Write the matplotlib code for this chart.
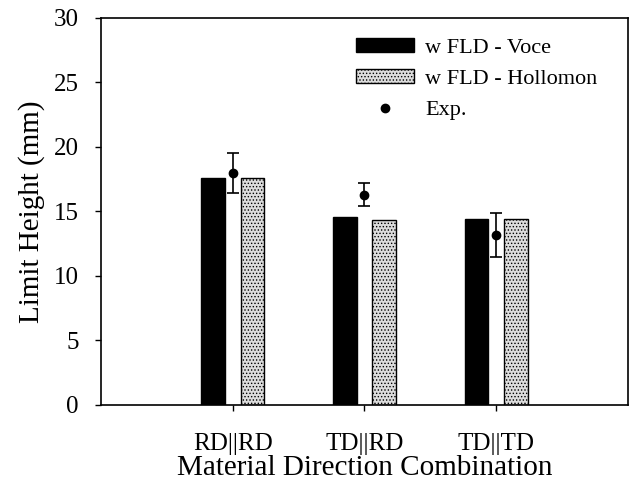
import matplotlib.pyplot as plt
from matplotlib.lines import Line2D
import numpy as np

plt.rcParams['font.family'] = ['Liberation Serif', 'DejaVu Serif']
plt.rcParams['hatch.color'] = '#8a8a8a'
plt.rcParams['hatch.linewidth'] = 0.6

# data
categories = ['RD||RD', 'TD||RD', 'TD||TD']
voce = [17.6, 14.6, 14.4]
hollomon = [17.6, 14.3, 14.4]
exp_mean = [18.0, 16.3, 13.2]
exp_err = [1.55, 0.9, 1.7]

x = np.arange(1, len(categories) + 1)
w = 0.18
off = 0.15

fig = plt.figure(figsize=(6.35, 4.86), dpi=100)
ax = fig.add_axes([0.159, 0.167, 0.830, 0.796])

b1 = ax.bar(x - off, voce, w, color='black', edgecolor='black', label='w FLD - Voce')
b2 = ax.bar(x + off, hollomon, w, color='#dcdcdc', edgecolor='black', linewidth=1.0,
            hatch='.....', label='w FLD - Hollomon')
ax.errorbar(x, exp_mean, yerr=exp_err, fmt='o', color='black', markersize=6,
            ecolor='black', elinewidth=1.2, capsize=4, capthick=1.2)

ax.set_xlim(0, 4)
ax.set_ylim(0, 30)
ax.set_yticks(np.arange(0, 31, 5))
ax.set_xticks(x)
ax.set_xticklabels(categories)
ax.tick_params(axis='both', labelsize=18, direction='out', length=4, width=1)
ax.tick_params(axis='x', pad=16)
ax.tick_params(axis='y', pad=12)
ax.set_ylabel('Limit Height (mm)', fontsize=21, labelpad=6)
ax.set_xlabel('Material Direction Combination', fontsize=21, labelpad=0)
for s in ax.spines.values():
    s.set_linewidth(1.2)

# legend: the experimental entry shows only the dot
dot = Line2D([], [], ls='none', marker='o', color='black', markersize=6)
ax.legend([b1, b2, dot], ['w FLD - Voce', 'w FLD - Hollomon', 'Exp.'],
          loc='upper left', bbox_to_anchor=(0.484, 0.948), frameon=False, fontsize=16,
          borderpad=0, borderaxespad=0, handlelength=2.6, handleheight=0.6,
          labelspacing=0.5, handletextpad=0.5)

fig.savefig('out.png', dpi=100)
